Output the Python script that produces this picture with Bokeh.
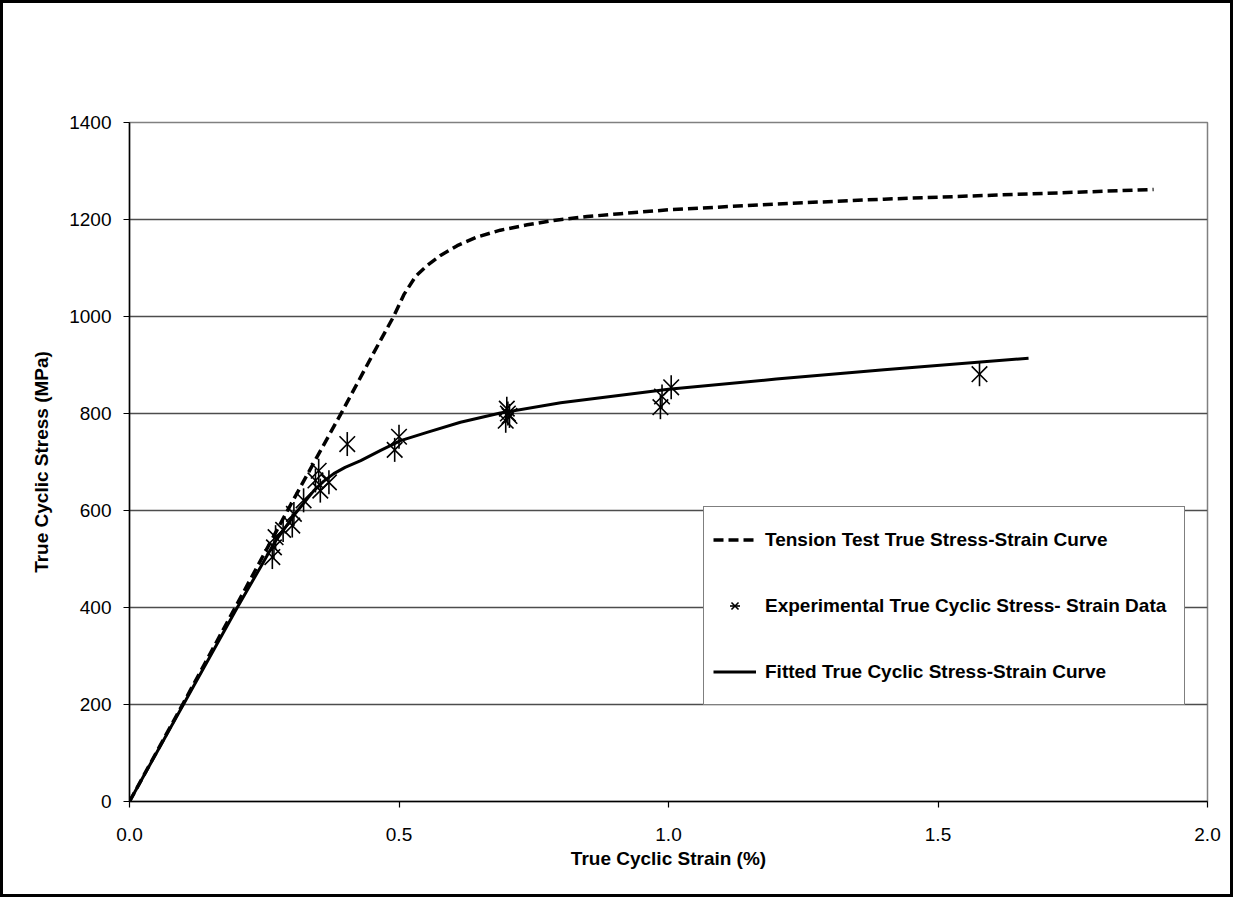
import numpy as np
from bokeh.plotting import figure
from bokeh.models import Legend, LegendItem, FixedTicker, Range1d, PrintfTickFormatter
from bokeh.embed import file_html
from bokeh.resources import INLINE

# Tension test true stress-strain curve (dashed)
tension_x = [0.0, 0.1, 0.2, 0.3, 0.395, 0.453, 0.490, 0.509, 0.531, 0.552, 0.577, 0.608,
             0.645, 0.688, 0.738, 0.787, 0.849, 0.911, 1.0, 1.2, 1.4, 1.6, 1.9]
tension_y = [0, 203, 408, 614, 805, 925, 1000, 1045, 1083, 1105, 1126, 1146,
             1164, 1178, 1189, 1198, 1206, 1212, 1220, 1232, 1242, 1250, 1262]

# Fitted true cyclic stress-strain curve (solid)
fit_x = [0.0, 0.1, 0.2, 0.243, 0.268, 0.305, 0.342, 0.36, 0.379, 0.40, 0.429, 0.466, 0.503,
         0.552, 0.614, 0.688, 0.8, 1.0, 1.2, 1.4, 1.668]
fit_y = [0, 200, 400, 483, 532, 590, 641, 660, 676, 689, 703, 724, 744,
         761, 782, 801, 822, 850, 871, 890, 914]

# Experimental true cyclic stress-strain data
exp_x = [0.265, 0.268, 0.271, 0.285, 0.302, 0.305, 0.323, 0.345, 0.351, 0.354, 0.370,
         0.404, 0.492, 0.500, 0.698, 0.700, 0.702, 0.705, 0.985, 0.988, 1.005, 1.577]
exp_y = [504, 524, 545, 560, 569, 593, 621, 662, 682, 641, 658,
         737, 725, 752, 785, 810, 800, 795, 813, 835, 854, 881]

x_ticks = [0.0, 0.5, 1.0, 1.5, 2.0]
y_ticks = [0, 200, 400, 600, 800, 1000, 1200, 1400]

x_title = "True Cyclic Strain (%)"
y_title = "True Cyclic Stress (MPa)"
series_names = ["Tension Test True Stress-Strain Curve",
                "Experimental True Cyclic Stress- Strain Data",
                "Fitted True Cyclic Stress-Strain Curve"]

FONT = "Liberation Sans"

p = figure(width=1233, height=897, output_backend="svg", toolbar_location=None,
           x_range=Range1d(0, 2), y_range=Range1d(0, 1400),
           min_border_left=126, min_border_right=29, min_border_top=119, min_border_bottom=99,
           background_fill_color="white", border_fill_color="white")
p.styles = {"border": "3px solid black"}

p.outline_line_color = "#808080"
p.outline_line_width = 1.5

p.xgrid.grid_line_color = None
p.ygrid.grid_line_color = "#4d4d4d"
p.ygrid.grid_line_width = 1.3
p.ygrid.ticker = FixedTicker(ticks=y_ticks)

p.xaxis.ticker = FixedTicker(ticks=x_ticks)
p.yaxis.ticker = FixedTicker(ticks=y_ticks)
p.xaxis.formatter = PrintfTickFormatter(format="%.1f")

for ax in (p.xaxis, p.yaxis):
    ax.axis_line_color = "black"
    ax.axis_line_width = 1.5
    ax.major_tick_line_color = "black"
    ax.major_tick_line_width = 1.2
    ax.major_tick_in = 0
    ax.major_tick_out = 6
    ax.minor_tick_line_color = None
    ax.major_label_text_font = FONT
    ax.major_label_text_font_size = "19px"
    ax.major_label_text_color = "black"
    ax.axis_label_text_font = FONT
    ax.axis_label_text_font_size = "19px"
    ax.axis_label_text_font_style = "bold"
    ax.axis_label_text_color = "black"

p.xaxis.axis_label = x_title
p.yaxis.axis_label = y_title
p.xaxis.major_label_standoff = 20
p.yaxis.major_label_standoff = 12
p.xaxis.axis_label_standoff = 4
p.yaxis.axis_label_standoff = 14

r_t = p.line(tension_x, tension_y, line_color="black", line_width=3.5, line_dash="10 5")
r_f = p.line(fit_x, fit_y, line_color="black", line_width=3)
r_ex = p.scatter(exp_x, exp_y, marker="x", size=22, line_color="black", line_width=1.6)
r_ed = p.scatter(exp_x, exp_y, marker="dash", angle=np.pi / 2, size=24,
                 line_color="black", line_width=1.6)

legend = Legend(items=[LegendItem(label=series_names[0], renderers=[r_t]),
                       LegendItem(label=series_names[1], renderers=[r_ex, r_ed]),
                       LegendItem(label=series_names[2], renderers=[r_f])],
                location=(574, 96))
legend.label_text_font = FONT
legend.label_text_font_size = "19px"
legend.label_text_font_style = "bold"
legend.label_text_color = "black"
legend.border_line_color = "black"
legend.border_line_width = 1.2
legend.background_fill_color = "white"
legend.background_fill_alpha = 1
legend.padding = 9
legend.spacing = 19
legend.glyph_width = 43
legend.glyph_height = 25
legend.label_height = 47
legend.label_standoff = 9
legend.label_width = 410
legend.margin = 0
p.add_layout(legend, "center")

open("out.html", "w").write(file_html(p, INLINE))
